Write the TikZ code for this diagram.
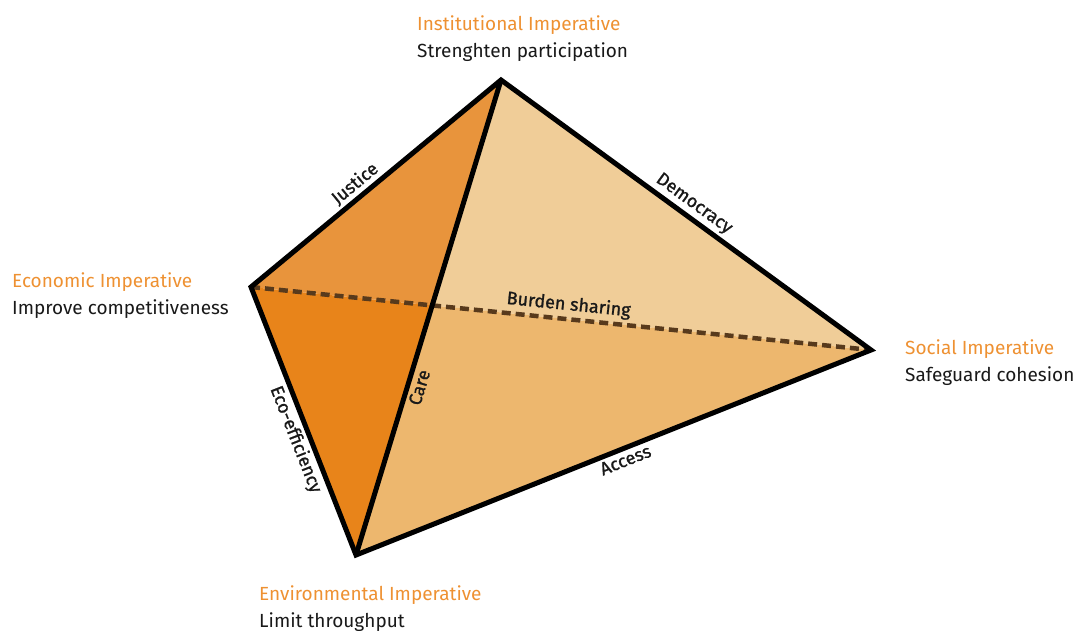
\documentclass[tikz,border=0pt]{standalone}
\usepackage{fontspec}
\setmainfont{Fira Sans}
\newfontfamily\labfont[FakeBold=1.2]{Fira Sans}
\usetikzlibrary{calc,intersections}
\definecolor{headorange}{RGB}{238,145,50}
\definecolor{txtblack}{RGB}{25,25,25}
\definecolor{faceUL}{RGB}{232,148,60}
\definecolor{faceLL}{RGB}{232,132,26}
\definecolor{faceUR}{RGB}{240,205,152}
\definecolor{faceLR}{RGB}{237,183,110}
\definecolor{dashbrown}{RGB}{88,58,28}
\tikzset{
  head/.style={anchor=base west, inner sep=0pt, text=headorange, font=\fontsize{19}{22}\selectfont},
  sub/.style={anchor=base west, inner sep=0pt, text=txtblack, font=\fontsize{19}{22}\selectfont},
  edgelabel/.style={sloped, inner sep=5pt, text=txtblack, font=\labfont\fontsize{18}{20}\selectfont},
  edgeline/.style={line width=5pt, black, miter limit=10},
  hidden/.style={line width=4.5pt, dashbrown, dash pattern=on 9pt off 5pt}
}
\begin{document}
\begin{tikzpicture}[x=1pt,y=-1pt]
\useasboundingbox (0,0) rectangle (1083,630);
\coordinate (T) at (501,80);
\coordinate (L) at (251,287);
\coordinate (R) at (871,350);
\coordinate (B) at (356,555);
\coordinate (X) at (intersection of T--B and L--R);
% faces
\fill[faceUL] (T) -- (L) -- (X) -- cycle;
\fill[faceLL] (L) -- (B) -- (X) -- cycle;
\fill[faceUR] (T) -- (X) -- (R) -- cycle;
\fill[faceLR] (X) -- (B) -- (R) -- cycle;
% hidden edge
\draw[hidden] (L) -- node[edgelabel, above, pos=0.51, inner sep=3pt] {Burden sharing} (R);
% visible edges
\draw[edgeline, line join=miter] (T) -- (L) -- (B) -- (R) -- cycle;
\draw[edgeline] (T) -- (B);
% edge labels
\path (L) -- node[edgelabel, above, pos=0.45] {Justice} (T);
\path (T) -- node[edgelabel, above, pos=0.5] {Democracy} (R);
\path (L) -- node[edgelabel, below, pos=0.55] {Eco-efficiency} (B);
\path (B) -- node[edgelabel, below, pos=0.36] {Care} (T);
\path (B) -- node[edgelabel, below, pos=0.515] {Access} (R);
% vertex labels
\node[head] (ih) at (417,30) {Institutional Imperative};
\node[sub] (is) at (417,57) {Strenghten participation};
\node[head] (eh) at (12,287) {Economic Imperative};
\node[sub] (es) at (12,314) {Improve competitiveness};
\node[head] (sh) at (905,354) {Social Imperative};
\node[sub] (ss) at (905,381) {Safeguard cohesion};
\node[head] (nh) at (259,600) {Environmental Imperative};
\node[sub] (ns) at (259,627) {Limit throughput};
\end{tikzpicture}
\end{document}
